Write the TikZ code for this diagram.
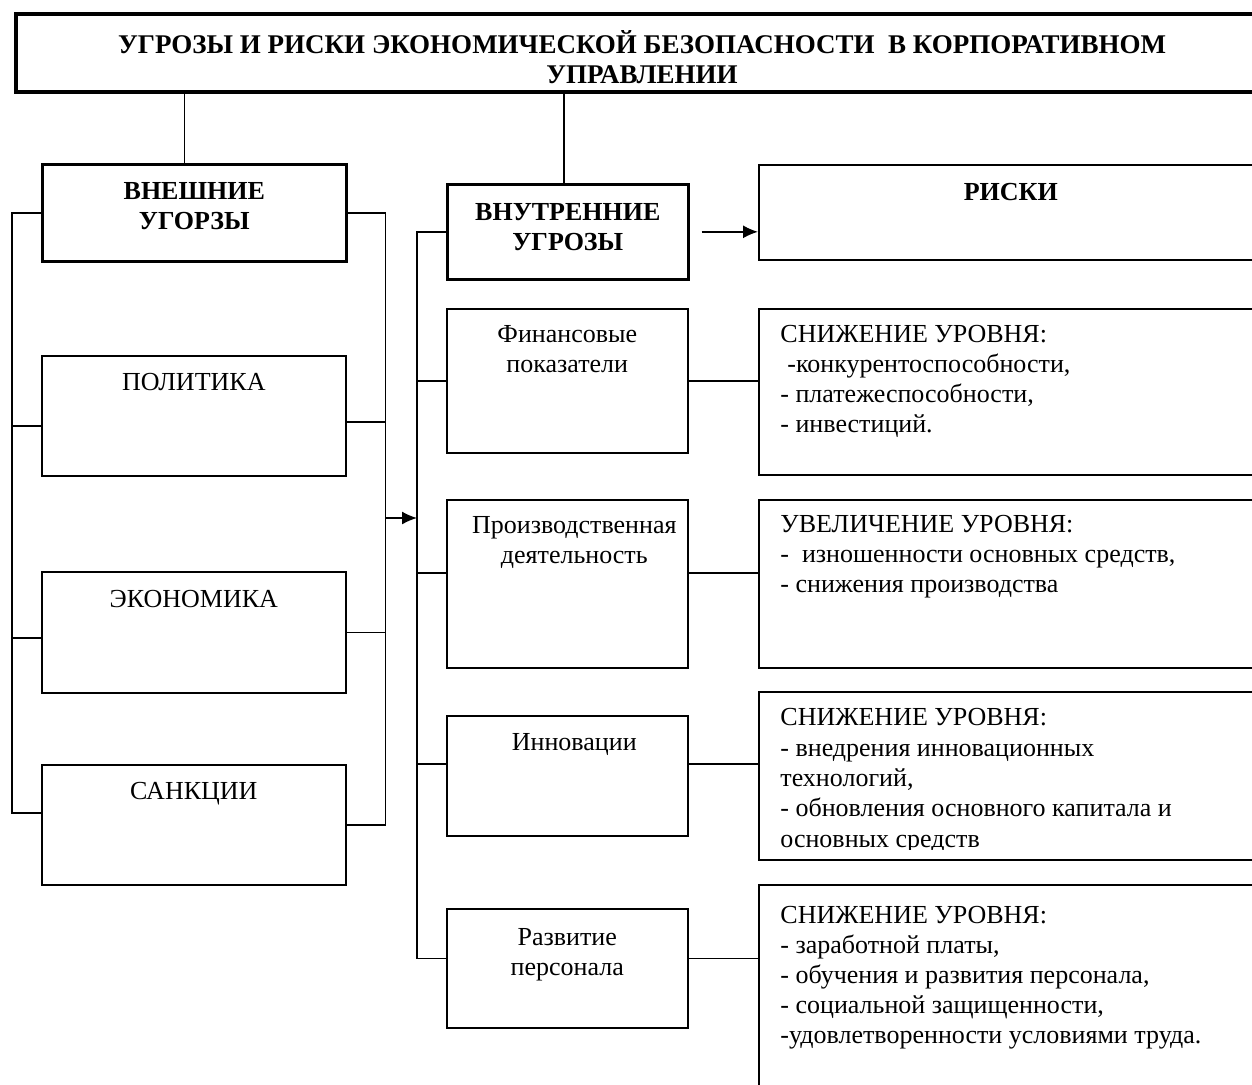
\documentclass[tikz,border=0pt]{standalone}
\usepackage{fontspec}
\setmainfont{Liberation Serif}
\usetikzlibrary{arrows.meta}
\usetikzlibrary{positioning}

\begin{document}
\begin{tikzpicture}[x=0.5pt,y=-0.5pt,
	every node/.style={font=\fontsize{13}{15}\selectfont},
	box/.style={draw,line width=0.8pt,rectangle,anchor=north west,inner sep=0pt},
	head/.style={font=\bfseries\fontsize{13}{15}\selectfont,align=center,inner sep=0pt},
	txt/.style={align=center,inner sep=0pt},
	rtxt/.style={align=left,inner sep=0pt},
	wire/.style={line width=0.75pt},
	arr/.style={wire,-{Latex[length=7.5pt,width=6.5pt]}}]
				\useasboundingbox (0,0) rectangle (1252,1084);
				\clip (0,0) rectangle (1252,1084);
				% title
				\node[box,line width=2pt,minimum width=633pt,minimum height=39pt] (TITLE) at (14,12) {};
				\node[head,font=\bfseries\fontsize{13.5}{15}\selectfont,below=9pt of TITLE.north,xshift=-3.5pt] (TITLE_TXT) {УГРОЗЫ И РИСКИ ЭКОНОМИЧЕСКОЙ БЕЗОПАСНОСТИ\ \ В КОРПОРАТИВНОМ\\УПРАВЛЕНИИ};
				% external threats
				\node[box,line width=1.3pt,minimum width=152pt,minimum height=48.5pt] (VNESH) at (41,163) {};
				\node[head,below=9.5pt of VNESH.north] (VNESH_TXT) {ВНЕШНИЕ\\УГОРЗЫ};
				\node[box,minimum width=152pt,minimum height=60pt] (POL) at (41,355) {};
				\node[txt,below=9pt of POL.north] (POL_TXT) {ПОЛИТИКА};
				\node[box,minimum width=152pt,minimum height=60.5pt] (EKON) at (41,571) {};
				\node[txt,below=9.5pt of EKON.north] (EKON_TXT) {ЭКОНОМИКА};
				\node[box,minimum width=152pt,minimum height=60pt] (SANK) at (41,764) {};
				\node[txt,below=9pt of SANK.north] (SANK_TXT) {САНКЦИИ};
				% internal threats
				\node[box,line width=1.3pt,minimum width=120.5pt,minimum height=47.5pt] (VNUTR) at (446,183) {};
				\node[head,below=10pt of VNUTR.north] (VNUTR_TXT) {ВНУТРЕННИЕ\\УГРОЗЫ};
				\node[box,minimum width=120.5pt,minimum height=72pt] (FIN) at (446,308) {};
				\node[txt,below=8.5pt of FIN.north] (FIN_TXT) {Финансовые\\показатели};
				\node[box,minimum width=120.5pt,minimum height=84pt] (PROIZ) at (446,499) {};
				\node[txt,below=8.5pt of PROIZ.north,xshift=3.5pt] (PROIZ_TXT) {Производственная\\деятельность};
				\node[box,minimum width=120.5pt,minimum height=60pt] (INNOV) at (446,715) {};
				\node[txt,below=9pt of INNOV.north,xshift=3.5pt] (INNOV_TXT) {Инновации};
				\node[box,minimum width=120.5pt,minimum height=59.5pt] (PERS) at (446,908) {};
				\node[txt,below=10pt of PERS.north] (PERS_TXT) {Развитие\\персонала};
				% risks
				\node[box,minimum width=252pt,minimum height=47.5pt] (RISK) at (758,164) {};
				\node[head,below=9.5pt of RISK.north] (RISK_TXT) {РИСКИ};
				\node[box,minimum width=260pt,minimum height=83pt] (R1) at (758,308) {};
				\node[rtxt,below right=8.5pt and 11pt of R1.north west] (R1_TXT) {СНИЖЕНИЕ УРОВНЯ:\\\hspace*{3.5pt}-конкурентоспособности,\\- платежеспособности,\\- инвестиций.};
				\node[box,minimum width=260pt,minimum height=84pt] (R2) at (758,499) {};
				\node[rtxt,below right=8pt and 11pt of R2.north west] (R2_TXT) {УВЕЛИЧЕНИЕ УРОВНЯ:\\-\ \ изношенности основных средств,\\- снижения производства};
				\node[box,minimum width=260pt,minimum height=84pt] (R3) at (758,691) {};
				\begin{scope}
				\clip (R3.north west) rectangle ([yshift=5.5pt]R3.south east);
				\node[rtxt,below right=8.5pt and 11pt of R3.north west,font=\fontsize{13}{15.2}\selectfont] (R3_TXT) {СНИЖЕНИЕ УРОВНЯ:\\- внедрения инновационных\\технологий,\\- обновления основного капитала и\\основных средств};
				\end{scope}
				\node[box,minimum width=260pt,minimum height=110pt] (R4) at (758,884) {};
				\node[rtxt,below right=11pt and 11pt of R4.north west] (R4_TXT) {СНИЖЕНИЕ УРОВНЯ:\\- заработной платы,\\- обучения и развития персонала,\\- социальной защищенности,\\-удовлетворенности условиями труда.};
				% attach points
				\coordinate (c_vnesh) at ([xshift=-5pt]VNESH.north);
				\coordinate (c_vnutr) at ([xshift=-2pt]VNUTR.north);
				\coordinate (c_pol_l) at ([yshift=-5pt]POL.west);
				\coordinate (c_pol_r) at ([yshift=-3pt]POL.east);
				\coordinate (c_ekon_l) at ([yshift=-2.75pt]EKON.west);
				\coordinate (c_sank_l) at ([yshift=6pt]SANK.west);
				\coordinate (c_proiz_l) at ([yshift=5.5pt]PROIZ.west);
				\coordinate (c_proiz_r) at ([yshift=5.5pt]PROIZ.east);
				\coordinate (c_innov_l) at ([yshift=6pt]INNOV.west);
				\coordinate (c_innov_r) at ([yshift=6pt]INNOV.east);
				\coordinate (c_pers_l) at ([yshift=5pt]PERS.west);
				\coordinate (c_pers_r) at ([yshift=5pt]PERS.east);
				\coordinate (c_arr) at (0,518);
				% title links
				\draw[wire] (c_vnesh) -- (c_vnesh |- TITLE.south);
				\draw[wire] (c_vnutr) -- (c_vnutr |- TITLE.south);
				% left bus
				\draw[wire] (VNESH.west) -- ++(-29,0) coordinate (LB_TOP) |- (c_sank_l);
				\draw[wire] (c_pol_l) -- (c_pol_l -| LB_TOP);
				\draw[wire] (c_ekon_l) -- (c_ekon_l -| LB_TOP);
				% right bus
				\draw[wire] (VNESH.east) -- ++(38,0) coordinate (RB_TOP) |- (SANK.east);
				\draw[wire] (c_pol_r) -- (c_pol_r -| RB_TOP);
				\draw[wire] (EKON.east) -- (EKON.east -| RB_TOP);
				% middle bus
				\draw[wire] (VNUTR.west) -- ++(-29,0) coordinate (MB_TOP) |- (c_pers_l);
				\draw[wire] (FIN.west) -- (FIN.west -| MB_TOP);
				\draw[wire] (c_proiz_l) -- (c_proiz_l -| MB_TOP);
				\draw[wire] (c_innov_l) -- (c_innov_l -| MB_TOP);
				\draw[arr] (RB_TOP |- c_arr) -- (MB_TOP |- c_arr);
				% to risks
				\draw[arr,shorten <=6pt] (VNUTR.east) -- (RISK.west |- VNUTR.east);
				\draw[wire] (FIN.east) -- (FIN.east -| R1.west);
				\draw[wire] (c_proiz_r) -- (c_proiz_r -| R2.west);
				\draw[wire] (c_innov_r) -- (c_innov_r -| R3.west);
				\draw[wire] (c_pers_r) -- (c_pers_r -| R4.west);
\end{tikzpicture}
\end{document}
